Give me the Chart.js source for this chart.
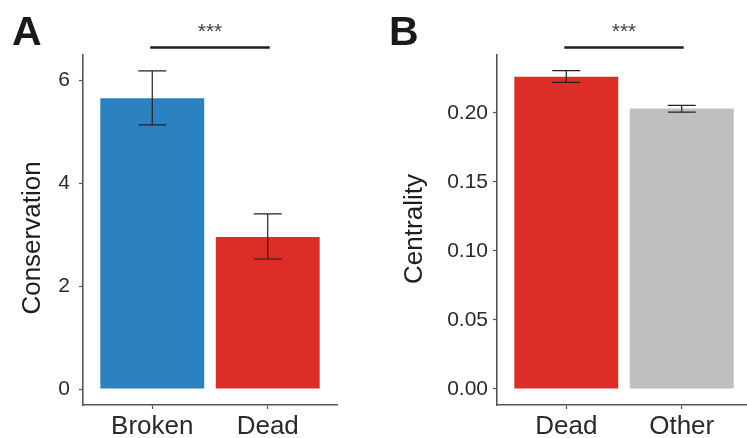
<!DOCTYPE html>
<html><head><meta charset="utf-8">
<script src="https://cdn.jsdelivr.net/npm/chart.js@4.4.1/dist/chart.umd.min.js"></script>
<style>
html,body{margin:0;padding:0;background:#fff;width:747px;height:438px;overflow:hidden;position:relative}
#wa{position:absolute;left:0;top:0;width:373px;height:438px}
#wb{position:absolute;left:373px;top:0;width:400px;height:438px}
</style></head><body>
<div id="wa"><canvas id="ca"></canvas></div>
<div id="wb"><canvas id="cb"></canvas></div>
<script>
// Panel A data
const categoriesA = ['Broken', 'Dead'];
const meansA = [5.66, 2.96];
const lowA = [5.14, 2.53];
const highA = [6.19, 3.41];
const yTicksA = [0, 2, 4, 6];

// Panel B data
const categoriesB = ['Dead', 'Other'];
const meansB = [0.226, 0.203];
const lowB = [0.222, 0.2005];
const highB = [0.2305, 0.2053];
const yTicksB = [0, 0.05, 0.10, 0.15, 0.20];

const FONT = '"Liberation Sans", Arial, sans-serif';

const decor = {
  id: 'decor',
  afterDatasetsDraw(chart, args, o) {
    const ctx = chart.ctx, x = chart.scales.x, y = chart.scales.y;
    ctx.save();
    // error bars
    ctx.strokeStyle = '#222';
    ctx.lineWidth = 1.2;
    o.low.forEach((lo, i) => {
      const px = x.getPixelForValue(i + 1);
      const yl = y.getPixelForValue(lo), yh = y.getPixelForValue(o.high[i]);
      ctx.beginPath();
      ctx.moveTo(px, yl); ctx.lineTo(px, yh);
      ctx.moveTo(px - 14, yl); ctx.lineTo(px + 14, yl);
      ctx.moveTo(px - 14, yh); ctx.lineTo(px + 14, yh);
      ctx.stroke();
    });
    // significance bracket
    const x1 = x.getPixelForValue(1) - 2, x2 = x.getPixelForValue(2) + 2;
    ctx.lineWidth = 2.5; ctx.strokeStyle = '#1e1e1e';
    ctx.beginPath(); ctx.moveTo(x1, 47.5); ctx.lineTo(x2, 47.5); ctx.stroke();
    ctx.fillStyle = '#444';
    ctx.font = '21px ' + FONT;
    ctx.textAlign = 'center'; ctx.textBaseline = 'alphabetic';
    ctx.fillText('***', (x1 + x2) / 2, 38);
    // panel letter
    ctx.font = 'bold 41px ' + FONT;
    ctx.fillStyle = '#1a1a1a'; ctx.textAlign = 'left';
    ctx.fillText(o.letter, o.letterX, 45);
    // y axis title
    ctx.translate(o.titleX, o.titleY); ctx.rotate(-Math.PI / 2);
    ctx.font = '26px ' + FONT; ctx.textAlign = 'center'; ctx.textBaseline = 'middle';
    ctx.fillStyle = '#1e1e1e';
    ctx.fillText(o.title, 0, 0);
    ctx.restore();
  }
};

function makeChart(id, cats, means, low, high, colors, yTicks, yMin, yMax, fmt, o) {
  return new Chart(document.getElementById(id), {
    type: 'bar',
    data: {
      datasets: [{
        data: cats.map((c, i) => ({ x: i + 1, y: means[i] })),
        backgroundColor: colors,
        borderWidth: 0,
        categoryPercentage: 0.9,
        barPercentage: 1
      }]
    },
    options: {
      responsive: true, maintainAspectRatio: false, animation: false,
      devicePixelRatio: 1,
      layout: { padding: { left: 0, top: 55, right: o.padRight, bottom: 0 } },
      plugins: { legend: { display: false }, tooltip: { enabled: false }, decor: o },
      scales: {
        x: {
          type: 'linear', min: 0.4, max: 2.6, offset: false,
          afterBuildTicks: s => { s.ticks = cats.map((c, i) => ({ value: i + 1 })); },
          afterFit: s => { s.height = 33; },
          ticks: { callback: v => cats[v - 1], font: { size: 26, family: FONT }, color: '#2a2a2a', padding: 2, maxRotation: 0, autoSkip: false },
          grid: { drawOnChartArea: false, drawTicks: true, tickLength: 4, tickColor: '#555', tickWidth: 1.2, offset: false },
          border: { display: true, color: '#555', width: 1.6 }
        },
        y: {
          min: yMin, max: yMax,
          afterBuildTicks: s => { s.ticks = yTicks.map(v => ({ value: v })); },
          afterFit: s => { s.width = o.yWidth; },
          ticks: { callback: fmt, font: { size: 21, family: FONT }, color: '#2a2a2a', padding: o.tickPad },
          grid: { drawOnChartArea: false, drawTicks: true, tickLength: 4, tickColor: '#555', tickWidth: 1.2 },
          border: { display: true, color: '#555', width: 1.6 }
        }
      }
    },
    plugins: [decor]
  });
}

makeChart('ca', categoriesA, meansA, lowA, highA, ['#2c82be', '#dc2d27'], yTicksA, -0.311, 6.5,
  v => String(v),
  { low: lowA, high: highA, letter: 'A', letterX: 12, title: 'Conservation', titleX: 33, titleY: 238, padRight: 36, yWidth: 83, tickPad: 9 });

makeChart('cb', categoriesB, meansB, lowB, highB, ['#dc2d27', '#bebfbe'], yTicksB, -0.0116, 0.2418,
  v => v.toFixed(2),
  { low: lowB, high: highB, letter: 'B', letterX: 16, title: 'Centrality', titleX: 42, titleY: 229, padRight: 22, yWidth: 124, tickPad: 5 });
</script>
</body></html>
